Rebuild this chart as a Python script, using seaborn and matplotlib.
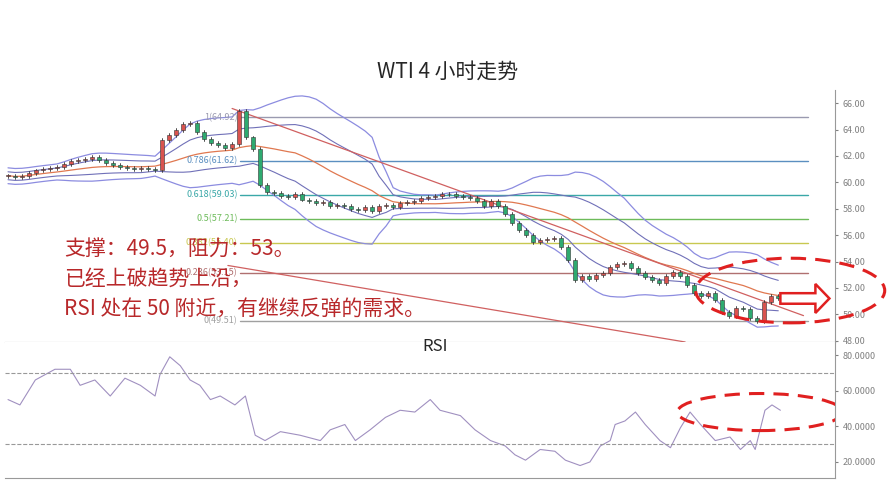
import numpy as np
import pandas as pd
import seaborn as sns
import matplotlib
matplotlib.use("Agg")
import matplotlib.pyplot as plt
from matplotlib.patches import Ellipse, Rectangle, FancyArrow

# 4h closes, one per candle
closes = [60.5, 60.4, 60.5, 60.7, 60.9, 61.0, 61.1, 61.2,
          61.4, 61.6, 61.7, 61.8, 61.9, 61.7,
          61.5, 61.3, 61.2, 61.1, 61.0, 61.1, 61.0, 60.9,
          63.2, 63.6, 64.0, 64.4, 64.5,
          63.8, 63.3, 63.0, 62.8, 62.6, 62.9,
          65.4, 63.4, 62.5, 59.8,
          59.3, 59.2, 59.0, 58.9, 59.1,
          58.7, 58.6, 58.4, 58.5, 58.2, 58.3, 58.2, 58.0, 57.9, 58.1, 57.8,
          58.2, 58.3, 58.1, 58.4, 58.5, 58.6, 58.8,
          58.9, 59.0, 59.1, 59.1, 59.0, 58.9, 58.8, 58.6,
          58.2, 58.6, 58.2,
          57.6, 56.9, 56.4, 56.0, 55.5,
          55.6, 55.7, 55.8, 55.1,
          54.1, 52.6,
          52.9, 52.7, 53.0, 53.1, 53.6,
          53.8, 53.9,
          53.5, 53.1, 52.8, 52.6, 52.4,
          52.9, 53.2, 52.9,
          52.2, 51.6, 51.4, 51.6,
          51.1, 50.2, 49.9, 50.5,
          50.4, 49.7, 49.5,
          50.9, 51.4, 51.2]

rsi_idx = [0, 1.7, 3.9, 6.7, 8.9, 10.3, 12.4, 14.6, 16.7, 18.9, 21.0, 21.7, 23.1,
           24.6, 26.0, 27.4, 28.9, 30.3, 32.4, 33.9, 35.3, 36.7, 38.9, 41.7, 44.6,
           46.0, 48.1, 49.6, 51.7, 53.9, 56.0, 58.1, 60.3, 61.7, 64.6, 66.7, 68.9,
           71.0, 72.4, 73.9, 76.0, 78.1, 79.6, 81.7, 83.1, 84.6, 86.0, 86.7, 88.1,
           89.6, 91.0, 93.1, 94.6, 96.0, 97.4, 98.9, 101.0, 103.1, 104.6, 106.0,
           106.7, 108.1, 109.1, 110.3]
rsi_val = [55, 52, 66, 72, 72, 63, 66, 57, 67, 63, 57, 69, 79,
           74, 66, 63, 55, 57, 52, 57, 35, 32, 37, 35, 32,
           38, 41, 32, 38, 45, 49, 48, 55, 49, 46, 38, 32,
           29, 24, 21, 27, 26, 21, 18, 20, 29, 32, 41, 43,
           48, 41, 32, 28, 39, 48, 41, 32, 34, 27, 32,
           27, 49, 52, 49]

fib_levels = [64.92, 61.62, 59.03, 57.21, 55.40, 53.15, 49.51]
fib_names = ["1", "0.786", "0.618", "0.5", "0.382", "0.236", "0"]
fib_colors = ["#9a9ab0", "#5b8fc0", "#3aa8a8", "#6dbb5a", "#c8c850", "#b07070", "#a0a0a0"]

price_ticks = [48, 50, 52, 54, 56, 58, 60, 62, 64, 66]
rsi_ticks = [20, 40, 60, 80]

notes = ["支撑：49.5，阻力：53。", "已经上破趋势上沿，", "RSI 处在 50 附近，有继续反弹的需求。"]

sns.set_style("white")
plt.rcParams['font.family'] = ['Noto Sans CJK SC', 'DejaVu Sans']

df = pd.DataFrame({"i": np.arange(len(closes)), "close": closes})
df["open"] = df["close"].shift(1).fillna(df["close"].iloc[0])
df["high"] = df[["open", "close"]].max(axis=1) + 0.15
df["low"] = df[["open", "close"]].min(axis=1) - 0.15
roll = df["close"].rolling(20, min_periods=1)
df["mid"] = roll.mean()
sd = roll.std().fillna(0.3).clip(lower=0.3)
df["up1"], df["dn1"] = df["mid"] + sd, df["mid"] - sd
df["up2"], df["dn2"] = df["mid"] + 2 * sd, df["mid"] - 2 * sd

fig = plt.figure(figsize=(8.88, 4.90), dpi=100)
ax = fig.add_axes([5 / 888, 1 - 342 / 490, 830 / 888, 252 / 490])
ax2 = fig.add_axes([5 / 888, 1 - 478 / 490, 830 / 888, 136 / 490])
xlim = (-0.43, 118.1)

for col, c, lw in [("up2", "#8c8ce0", 0.9), ("dn2", "#8c8ce0", 0.9),
                   ("up1", "#7070b8", 0.8), ("dn1", "#7070b8", 0.8), ("mid", "#e07850", 0.9)]:
    sns.lineplot(data=df, x="i", y=col, ax=ax, color=c, lw=lw, zorder=2)

for lvl, name, c in zip(fib_levels, fib_names, fib_colors):
    ax.plot([33.1, 114.3], [lvl, lvl], color=c, lw=1, zorder=1)
    ax.text(32.8, lvl, f"{name}({lvl:.2f})", color=c, fontsize=6.5, ha="right", va="center")

ax.plot([32, 113.6], [65.6, 49.9], color="#d06060", lw=0.9, zorder=2)
ax.plot([31.4, 96.7], [53.7, 47.9], color="#d06060", lw=0.9, zorder=2)

for r in df.itertuples():
    up = r.close >= r.open
    fc = "#d9534f" if up else "#2eaa70"
    ax.plot([r.i, r.i], [r.low, r.high], color="#333333", lw=0.6, zorder=3)
    h = max(abs(r.close - r.open), 0.05)
    ax.add_patch(Rectangle((r.i - 0.3, min(r.open, r.close)), 0.6, h,
                           facecolor=fc, edgecolor="#333333", lw=0.4, zorder=4))

for k, t in enumerate(notes):
    ax.text(8.0, 55.0 - k * 2.3, t, color="#b8282a", fontsize=15, va="center", zorder=6)

ax.add_patch(Ellipse((111.7, 51.8), 27, 4.9, fill=False, ec="#e02020", lw=2.2,
                     ls=(0, (5, 3)), clip_on=False, zorder=6))
ax.add_patch(FancyArrow(110.3, 51.2, 5.0, 0, width=0.8, head_width=2.2, head_length=2.0,
                        fc="white", ec="#e02020", lw=1.8, zorder=7))

ax.set_xlim(*xlim)
ax.set_ylim(47.9, 67.0)
ax.set_yticks(price_ticks)
ax.set_yticklabels([f"{v:.2f}" for v in price_ticks])
ax.set_xticks([])
ax.yaxis.tick_right()
ax.tick_params(axis="y", labelsize=6.5, labelcolor="#808080", length=2, color="#808080")
ax.set_xlabel("")
ax.set_ylabel("")
for s in ["top", "left", "bottom"]:
    ax.spines[s].set_visible(False)
ax.spines["right"].set_color("#999999")
ax.spines["bottom"].set_visible(True)
ax.spines["bottom"].set_color("#999999")

sns.lineplot(x=rsi_idx, y=rsi_val, ax=ax2, color="#a090c0", lw=0.8)
for lv in [70, 30]:
    ax2.axhline(lv, color="#999999", lw=0.8, ls="--")
ax2.add_patch(Ellipse((107.4, 48), 23.6, 20.8, fill=False, ec="#e02020", lw=2.2,
                      ls=(0, (5, 3)), zorder=6))
ax2.text(61.0, 84.5, "RSI", fontsize=12, ha="center", va="center")
ax2.set_xlim(*xlim)
ax2.set_ylim(11, 87.3)
ax2.set_yticks(rsi_ticks)
ax2.set_yticklabels([f"{v:.4f}" for v in rsi_ticks])
ax2.set_xticks([])
ax2.yaxis.tick_right()
ax2.tick_params(axis="y", labelsize=6.5, labelcolor="#808080", length=2, color="#808080")
for s in ["top", "left"]:
    ax2.spines[s].set_visible(False)
ax2.spines["right"].set_color("#999999")
ax2.spines["bottom"].set_color("#999999")

fig.text(448 / 888, 1 - 72 / 490, "WTI 4 小时走势", fontsize=15, ha="center", va="center")
fig.savefig("out.png", dpi=100)
